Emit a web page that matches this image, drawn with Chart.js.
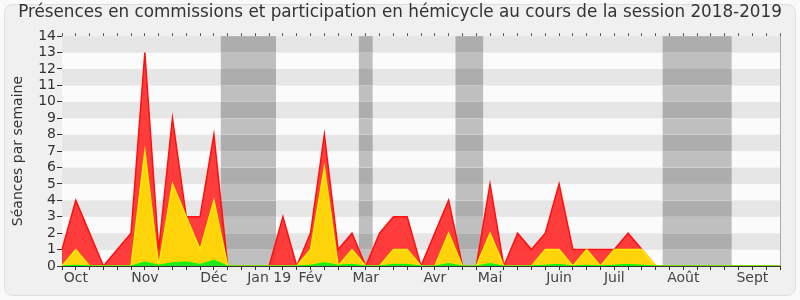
<!DOCTYPE html>
<html>
<head>
<meta charset="utf-8">
<script src="https://cdn.jsdelivr.net/npm/chart.js@4"></script>
<style>
  html, body { margin: 0; padding: 0; background: #fafafa; }
  #wrap { width: 800px; height: 300px; }
</style>
</head>
<body>
<div id="wrap"><canvas id="graficoPresences" width="800" height="300"></canvas></div>
<script>
// Présences par semaine, session 2018-2019 (semaine 0 = début octobre)

var semaines = [];
for (var i = 0; i < 53; i++) semaines.push(i);

// libellés des mois, placés sur la semaine correspondante
var moisSemaine = [1, 6, 11, 15, 18, 22, 27, 31, 36, 40, 45, 50];
var moisNoms = ['Oct', 'Nov', 'Déc', 'Jan 19', 'Fév', 'Mar', 'Avr', 'Mai', 'Juin', 'Juil', 'Août', 'Sept'];

// séances en commission (rouge)
var presences = [1, 4, 2, 0, 1, 2, 13, 1, 9, 3, 3, 8, 0, 0, 0, 0, 3, 0, 2, 8, 1, 2, 0, 2, 3, 3, 0,
                 2, 4, 0, 0, 5, 0, 2, 1, 2, 5, 1, 1, 1, 1, 2, 1, 0, 0, 0, 0, 0, 0, 0, 0, 0, 0];
// participation (jaune)
var participations = [0, 1, 0, 0, 0, 0, 7, 0, 5, 3, 1, 4, 0, 0, 0, 0, 0, 0, 1, 6, 0, 1, 0, 0, 1, 1, 0,
                      0, 2, 0, 0, 2, 0, 0, 0, 1, 1, 0, 1, 0, 1, 1, 1, 0, 0, 0, 0, 0, 0, 0, 0, 0, 0];
// interventions en hémicycle (vert)
var hemicycle = [0, 0.05, 0, 0, 0, 0, 0.25, 0.05, 0.2, 0.25, 0.1, 0.35, 0, 0, 0, 0, 0, 0, 0.05, 0.2, 0.05, 0.1, 0, 0, 0.1, 0.1, 0,
                 0, 0.15, 0, 0, 0.15, 0, 0, 0, 0.05, 0.1, 0, 0.05, 0, 0.05, 0.1, 0.05, 0, 0, 0, 0, 0, 0, 0, 0, 0, 0];

// vacances parlementaires (en semaines)
var vacances = [[11.5, 15.5], [21.5, 22.5], [28.5, 30.5], [43.5, 48.5]];

var fond = {
  id: 'fond',
  beforeDraw: function (chart) {
    var c = chart.ctx;
    c.save();
    c.fillStyle = '#fafafa';
    c.fillRect(0, 0, chart.width, chart.height);
    c.beginPath();
    c.roundRect(4.5, 4.5, chart.width - 9, chart.height - 9, 8);
    c.fillStyle = '#f0f0f0';
    c.fill();
    c.strokeStyle = '#dedede';
    c.lineWidth = 1;
    c.stroke();
    c.restore();
  },
  beforeDatasetsDraw: function (chart) {
    var c = chart.ctx, a = chart.chartArea;
    var x = chart.scales.x, y = chart.scales.y;
    c.save();
    for (var v = 0; v < 14; v++) {
      var y1 = y.getPixelForValue(v + 1), y0 = y.getPixelForValue(v);
      c.fillStyle = (v % 2) ? '#e6e6e6' : '#fbfbfb';
      c.fillRect(a.left, y1, a.right - a.left, y0 - y1);
      vacances.forEach(function (b) {
        var xa = x.getPixelForValue(b[0]), xb = x.getPixelForValue(b[1]);
        c.fillStyle = (v % 2) ? '#adadad' : '#bfbfbf';
        c.fillRect(xa, y1, xb - xa, y0 - y1);
      });
    }
    c.strokeStyle = '#aaaaaa';
    c.lineWidth = 1;
    c.beginPath();
    c.moveTo(a.right + 0.5, a.top);
    c.lineTo(a.right + 0.5, a.bottom);
    c.stroke();
    c.restore();
  }
};

var ctx = document.getElementById('graficoPresences');
var myChart = new Chart(ctx, {
  type: 'line',
  data: {
    labels: semaines,
    datasets: [
      {
        label: 'Hémicycle',
        data: hemicycle,
        backgroundColor: '#22e622',
        borderColor: '#00ff00',
        borderWidth: 1,
        fill: 'origin',
        order: 1
      },
      {
        label: 'Participation',
        data: participations,
        backgroundColor: '#ffd30a',
        borderColor: '#ffee00',
        borderWidth: 1.5,
        fill: 'origin',
        order: 2
      },
      {
        label: 'Présences',
        data: presences,
        backgroundColor: 'rgba(255,40,40,0.9)',
        borderColor: '#ff1010',
        borderWidth: 1.5,
        fill: 'origin',
        order: 3
      }
    ]
  },
  options: {
    responsive: false,
    animation: false,
    layout: { padding: 0 },
    elements: { point: { radius: 0 }, line: { tension: 0 } },
    plugins: {
      legend: { display: false },
      tooltip: { enabled: false },
      title: {
        display: true,
        text: 'Présences en commissions et participation en hémicycle au cours de la session 2018-2019',
        color: '#333333',
        font: { family: 'DejaVu Sans', size: 16.8, weight: 'normal' },
        padding: { top: 3, bottom: 9 }
      }
    },
    scales: {
      x: {
        type: 'category',
        offset: false,
        border: { color: '#333333' },
        grid: { drawOnChartArea: false, tickLength: 4, color: '#333333' },
        ticks: {
          autoSkip: false,
          maxRotation: 0,
          color: '#444444',
          padding: 0,
          font: { family: 'DejaVu Sans', size: 14 },
          callback: function (val, idx) {
            var k = moisSemaine.indexOf(idx);
            return k >= 0 ? moisNoms[k] : '';
          }
        },
        afterFit: function (s) { s.height = 34; }
      },
      xHaut: {
        type: 'category',
        position: 'top',
        offset: false,
        border: { display: false },
        grid: { drawOnChartArea: false, tickLength: 3, color: '#555555' },
        ticks: { display: false },
        afterFit: function (s) { s.height = 4; }
      },
      y: {
        min: 0,
        max: 14,
        border: { color: '#333333' },
        grid: { drawOnChartArea: false, tickLength: 5, color: '#333333' },
        ticks: {
          stepSize: 1,
          autoSkip: false,
          color: '#333333',
          padding: 1,
          font: { family: 'DejaVu Sans', size: 14 }
        },
        title: {
          display: true,
          text: 'Séances par semaine',
          color: '#333333',
          font: { family: 'DejaVu Sans', size: 14 },
          padding: { top: 10, bottom: 0 }
        },
        afterFit: function (s) { s.width = 62; }
      },
      yDroite: {
        position: 'right',
        min: 0,
        max: 14,
        border: { display: false },
        grid: { display: false },
        ticks: { display: false },
        afterFit: function (s) { s.width = 20; }
      }
    }
  },
  plugins: [fond]
});
</script>
</body>
</html>
